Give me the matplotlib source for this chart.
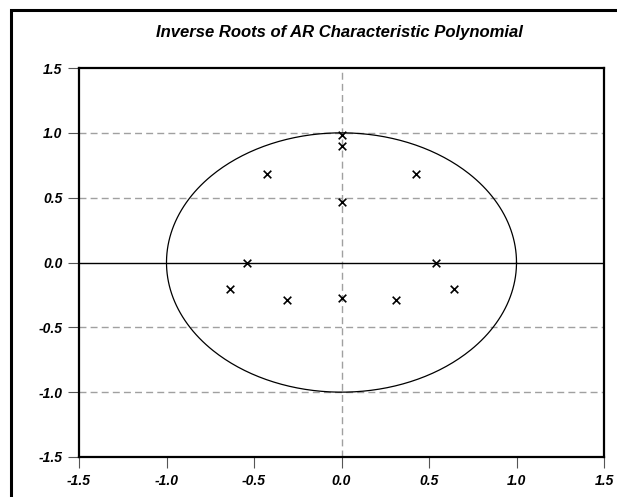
import numpy as np
import matplotlib
matplotlib.use("Agg")
import matplotlib.pyplot as plt
from matplotlib.patches import Rectangle

root_re = [0.0, 0.0, -0.425, 0.425, 0.0, -0.54, 0.54, -0.64, 0.64, -0.31, 0.31, 0.0]
root_im = [0.985, 0.90, 0.685, 0.685, 0.465, 0.0, 0.0, -0.205, -0.205, -0.29, -0.29, -0.275]

ticks = [-1.5, -1.0, -0.5, 0.0, 0.5, 1.0, 1.5]
tick_labels = ["-1.5", "-1.0", "-0.5", "0.0", "0.5", "1.0", "1.5"]
grid_y = [-1.0, -0.5, 0.5, 1.0]

plt.rcParams['font.family'] = ['Liberation Sans', 'DejaVu Sans']

fig = plt.figure(figsize=(6.17, 4.97), dpi=100)
ax = fig.add_axes([79/617, 40/497, 525/617, 389/497])

# grid lines
for gy in grid_y:
    ax.axhline(gy, color='#a0a0a0', lw=1, ls=(0, (5, 3)), zorder=1)
ax.axvline(0, color='#a0a0a0', lw=1, ls=(0, (5, 3)), zorder=1)
ax.axhline(0, color='black', lw=1, zorder=2)

# unit circle
th = np.linspace(0, 2*np.pi, 400)
ax.plot(np.cos(th), np.sin(th), color='black', lw=0.9, zorder=3)

# roots
ax.scatter(root_re, root_im, marker='x', s=30, color='black', linewidths=1.2, zorder=4)

ax.set_xlim(-1.5, 1.5)
ax.set_ylim(-1.5, 1.5)
ax.set_xticks(ticks)
ax.set_xticklabels(tick_labels)
ax.set_yticks(ticks)
ax.set_yticklabels(tick_labels)
for lab in ax.get_xticklabels() + ax.get_yticklabels():
    lab.set_fontweight('bold')
    lab.set_fontstyle('italic')
    lab.set_fontsize(10)
ax.tick_params(axis='both', direction='out', length=8, width=0.8, color='#555555', pad=4)
for s in ax.spines.values():
    s.set_linewidth(1.6)
    s.set_color('black')

fig.text(339/617, 1 - 33/497, "Inverse Roots of AR Characteristic Polynomial",
         ha='center', va='center', fontsize=12, fontweight='bold', fontstyle='italic')

# outer frame
fig.patches.append(Rectangle((11/617, -0.1), 1.2, 1 - 10/497 + 0.1,
                             transform=fig.transFigure, fill=False,
                             edgecolor='black', lw=2.2, zorder=0))

fig.savefig("out.png", dpi=100)
